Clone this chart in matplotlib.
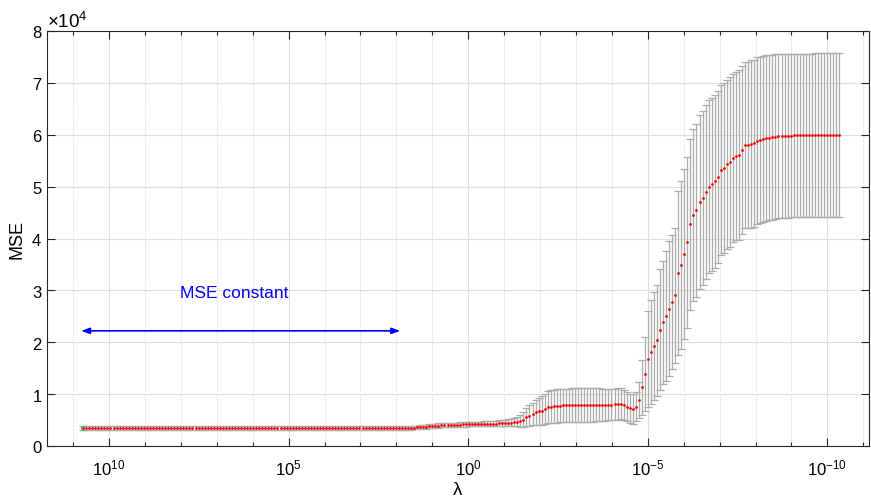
import numpy as np
import matplotlib
matplotlib.use("Agg")
import matplotlib.pyplot as plt
from matplotlib.ticker import FixedLocator, LogFormatterSciNotation, ScalarFormatter, NullFormatter

plt.rcParams['font.family'] = ['Liberation Sans', 'DejaVu Sans']
plt.rcParams['mathtext.fontset'] = 'custom'
plt.rcParams['mathtext.rm'] = 'Liberation Sans'
plt.rcParams['mathtext.it'] = 'Liberation Sans:italic'
plt.rcParams['mathtext.bf'] = 'Liberation Sans:bold'
plt.rcParams['axes.unicode_minus'] = False

# lambda grid of the cross-validated lasso fit (250 values, large -> small)
n_lambda = 250
lam = np.logspace(10.72, -10.33, n_lambda)

# cross-validated MSE for each lambda
mse = ([3480] * 108
       + [3520, 3560, 3600, 3640, 3680, 3720]
       + [3780, 3840, 3900, 3950, 4000, 4030, 4050]
       + [4080, 4100, 4120, 4140, 4160, 4180]
       + [4200, 4210, 4220, 4230, 4240, 4250, 4260, 4280, 4300, 4330]
       + [4370, 4400, 4430, 4470, 4500, 4560, 4690, 4820, 5080, 5530, 5850,
          6170, 6500, 6690, 6810, 7130, 7460, 7580, 7650, 7720, 7780]
       + [7850, 7870, 7880, 7890, 7900, 7900, 7900, 7910, 7910, 7920, 7920,
          7930, 7940, 7950, 7960, 7980, 8000, 8050, 8100, 8160, 7900]
       + [7580, 7270, 7130, 7580]
       + [8870, 11310, 13820, 16770, 18060, 19280, 20430, 22430, 23840,
          25120, 26470, 27760, 29050]
       + [33290, 34830, 36950, 39270, 42740, 44590, 45430, 47040, 47870,
          49020, 49990, 50450, 51030, 51800]
       + [53200, 53650, 54300, 54690, 55520, 55840, 56100, 57060, 57960,
          58080, 58220, 58350, 58850, 59050, 59240, 59370, 59430, 59510,
          59630, 59760]
       + [59800, 59820, 59840, 59850, 59860, 59870, 59880, 59880, 59890,
          59890, 59890, 59900, 59900, 59900, 59900, 59900, 59900, 59900,
          59900, 59900])

# standard error of the MSE
se = ([330] * 108
      + [340, 350, 350, 360, 360, 370]
      + [370, 380, 380, 390, 390, 400, 400]
      + [400, 410, 410, 420, 420, 430]
      + [430, 440, 450, 460, 470, 480, 490, 500, 520, 540]
      + [560, 600, 640, 680, 720, 800, 900, 1100, 1400, 1700, 2000, 2200,
         2400, 2600, 2800, 2950, 3100, 3150, 3200, 3200, 3200]
      + [3200] * 12
      + [3150, 3100, 3100, 3050, 3000, 3000, 3000, 2950, 2900]
      + [2750, 2750, 2900, 2800]
      + [3500, 5300, 7150, 9300, 10000, 10400, 10700, 11600, 11800, 12500,
         13000, 13000, 13000]
      + [15800, 16200, 16400, 16500, 16500, 16600, 16700, 16700, 16750,
         16750, 16700, 16700, 16650, 16600]
      + [16400, 16400, 16350, 16350, 16200, 16200, 16300, 16250, 16000,
         16000, 16100, 16150, 16050, 16000, 16000, 15950, 15950, 15900,
         15900, 15850]
      + [15850, 15830, 15820, 15800, 15800, 15790, 15780, 15780, 15770,
         15770, 15770, 15770, 15770, 15770, 15770, 15770, 15770, 15770,
         15770, 15770])

mse = np.array(mse, dtype=float)
se = np.array(se, dtype=float)

fig = plt.figure(figsize=(8.71, 5.02), dpi=100)
ax = fig.add_axes([47 / 871, 1 - 447 / 502, 822 / 871, 415 / 502])

ax.errorbar(lam, mse, yerr=se, fmt='none', ecolor='#ababab',
            elinewidth=0.9, capsize=2.6, capthick=0.9, zorder=2)
ax.plot(lam, mse, 'o', color='red', ms=2.0, mew=0, zorder=3)
ax.plot(lam[0], mse[0], 'o', mfc='none', mec='#5cb85c', ms=3, mew=0.8, zorder=4)

ax.set_xscale('log')
ax.set_xlim(10 ** 11.727, 10 ** -11.16)
ax.set_ylim(0, 80000)

majors = [1e10, 1e5, 1e0, 1e-5, 1e-10]
minors = [10.0 ** k for k in range(-11, 12) if k % 5 != 0]
ax.xaxis.set_major_locator(FixedLocator(majors))
ax.xaxis.set_minor_locator(FixedLocator(minors))
ax.xaxis.set_major_formatter(LogFormatterSciNotation())
ax.xaxis.set_minor_formatter(NullFormatter())

ax.set_yticks(np.arange(0, 80001, 10000))
fmt = ScalarFormatter(useMathText=True)
fmt.set_powerlimits((0, 0))
ax.yaxis.set_major_formatter(fmt)

ax.tick_params(which='both', direction='in', top=True, right=True,
               colors='#262626', labelcolor='black', labelsize=12)
ax.tick_params(which='major', length=5.5, width=0.8)
ax.tick_params(which='minor', length=3, width=0.8)
ax.tick_params(axis='x', which='major', pad=8)
ax.yaxis.get_offset_text().set_fontsize(13.5)

ax.grid(True, which='major', color='#dedede', lw=0.8, ls='-')
ax.grid(True, which='minor', axis='x', color='#cfcfcf', lw=0.7, ls=':')
ax.set_axisbelow(True)
for s in ax.spines.values():
    s.set_color('#262626')
    s.set_linewidth(0.8)

ax.set_xlabel('λ', fontsize=13.5, labelpad=3)
ax.set_ylabel('MSE', fontsize=13, labelpad=4)

# region where the error stays flat
ax.annotate('', xy=(10 ** 1.89, 22200), xytext=(10 ** 10.78, 22200),
            arrowprops=dict(arrowstyle='<|-|>,head_length=0.5,head_width=0.18',
                            color='blue', lw=1.2, shrinkA=0, shrinkB=0))
ax.text(10 ** 6.52, 29600, 'MSE constant', color='blue', fontsize=12.5,
        ha='center', va='center')

fig.savefig('out.png', dpi=100)
